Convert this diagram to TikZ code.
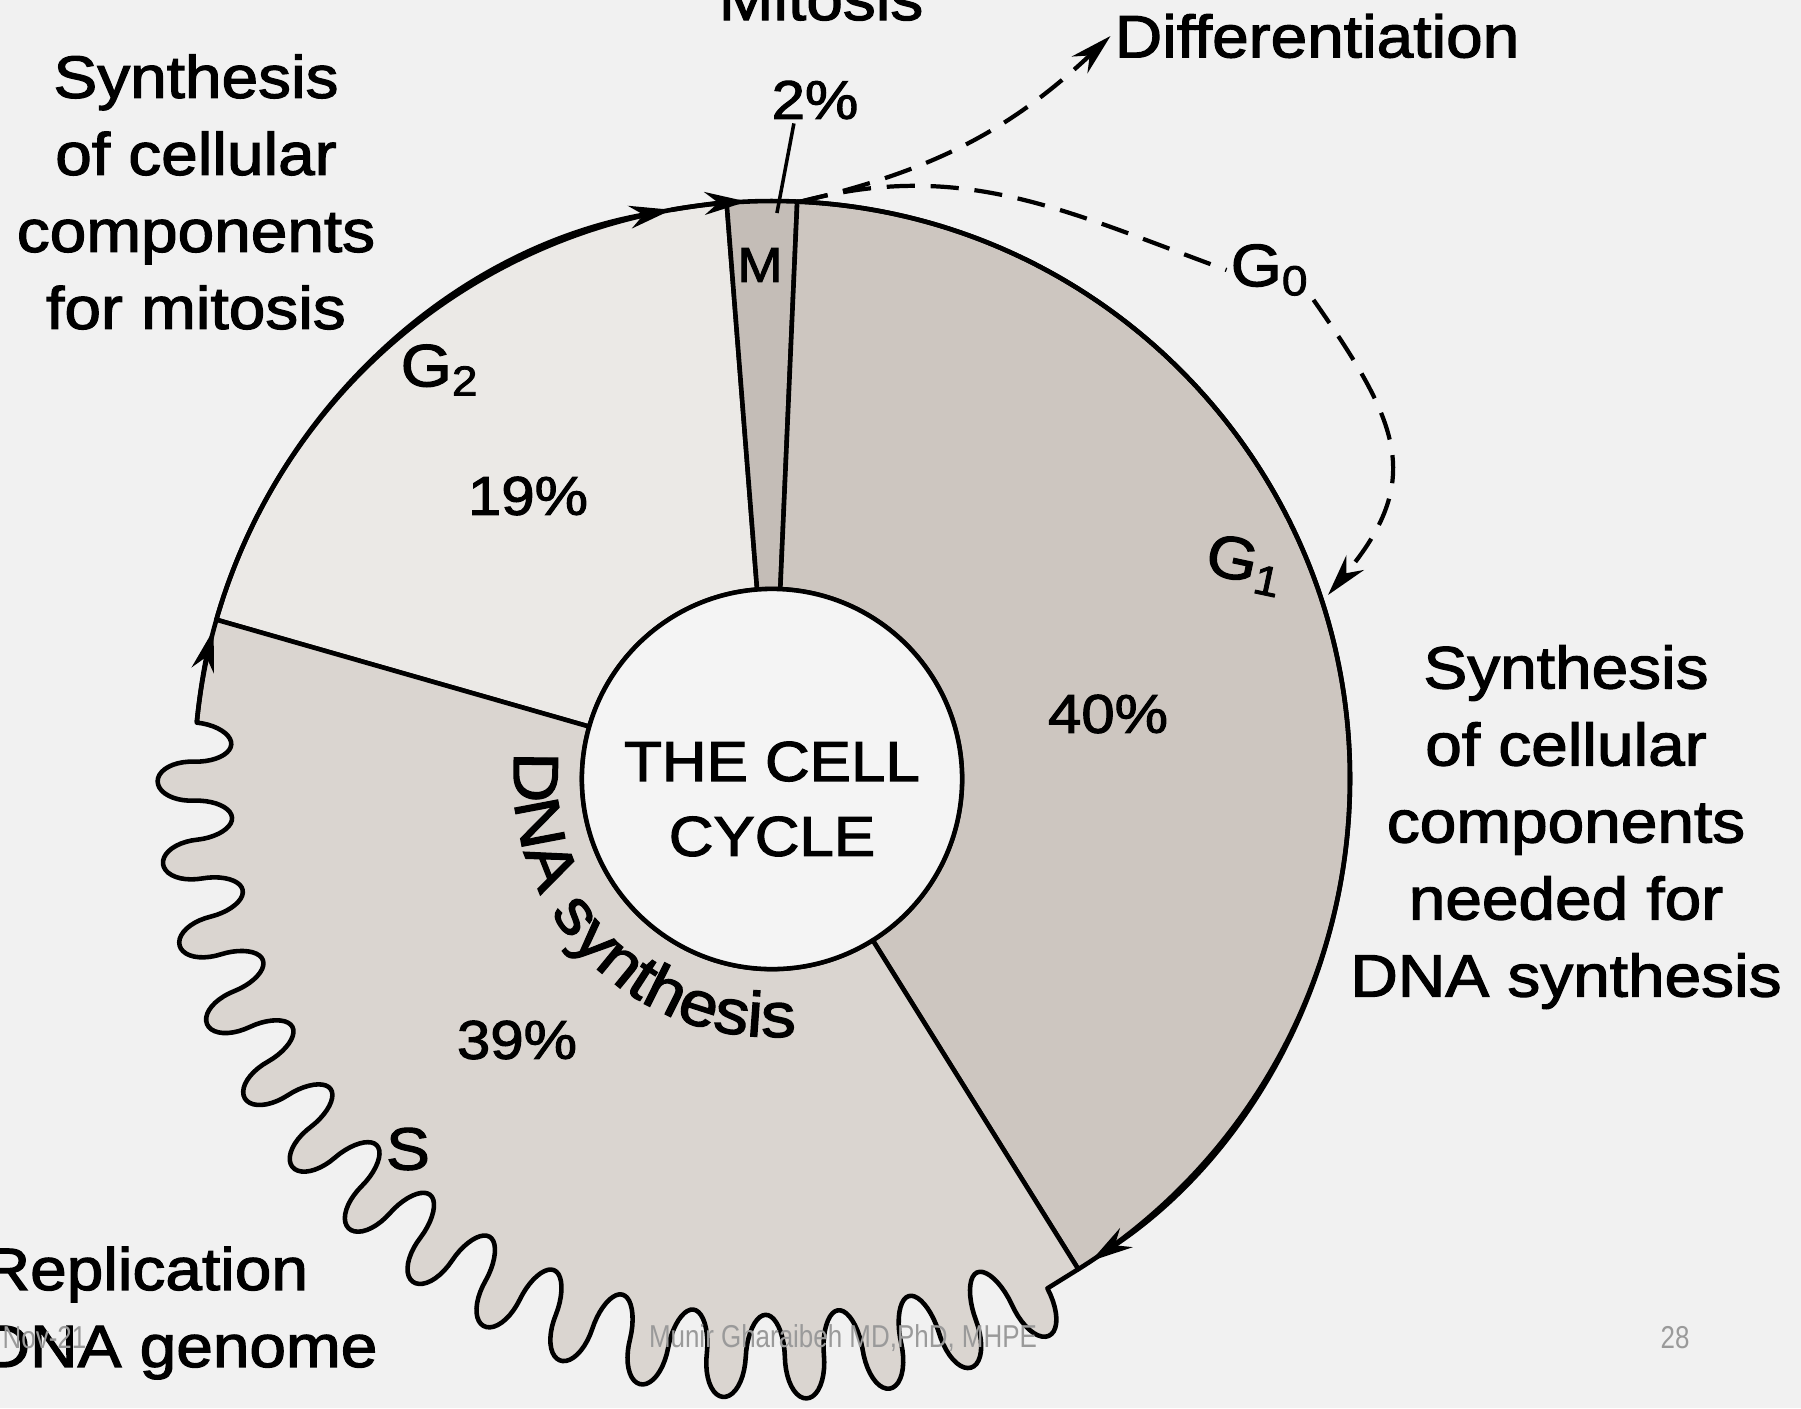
\documentclass[tikz,border=0pt]{standalone}
\usepackage{fontspec}
\setmainfont[FakeStretch=1.1,FakeBold=2]{Liberation Sans}
\newfontfamily\footfont[FakeStretch=0.82]{Liberation Sans}
\usetikzlibrary{arrows.meta,decorations.text}
\definecolor{slidebg}{HTML}{F1F1F1}
\definecolor{gtwofill}{HTML}{EBE9E6}
\definecolor{sfill}{HTML}{DAD5D0}
\definecolor{gonefill}{HTML}{CDC6C0}
\definecolor{mfill}{HTML}{C4BDB7}
\definecolor{hubfill}{HTML}{F4F4F4}
\definecolor{footgray}{HTML}{9A9A9A}

\begin{document}
\begin{tikzpicture}[
    x=0.01cm, y=0.01cm,
    >={Stealth[length=12pt,width=6.5pt]},
    phase/.style={draw=black, line width=1.3pt, line join=round},
    ring/.style={line width=1.3pt},
    dashline/.style={line width=1.2pt, dash pattern=on 8pt off 4.5pt},
    lbl/.style={font=\fontsize{17}{21.9}\selectfont, align=center, inner sep=1pt},
    pct/.style={font=\fontsize{15.5}{18}\selectfont, inner sep=1pt},
    foot/.style={font=\footfont\fontsize{9}{10}\selectfont, text=footgray, inner sep=0pt}
  ]
  \fill[slidebg] (-772,-629) rectangle (1029,779);
  \useasboundingbox (-772,-629) rectangle (1029,779);

  % sectors of the cycle
  \filldraw[phase, fill=gtwofill] (164:190) -- (164:578) arc[start angle=164, end angle=94.5, radius=578]
    -- (94.5:190) arc[start angle=94.5, end angle=164, radius=190] -- cycle;
  \filldraw[phase, fill=mfill] (94.5:190) -- (94.5:578) arc[start angle=94.5, end angle=87.5, radius=578]
    -- (87.5:190) arc[start angle=87.5, end angle=94.5, radius=190] -- cycle;
  \filldraw[phase, fill=gonefill] (87.5:190) -- (87.5:578) arc[start angle=87.5, end angle=-58, radius=578]
    -- (-58:190) arc[start angle=-58, end angle=87.5, radius=190] -- cycle;
  % S phase with its wavy rim (32 lobes)
  \filldraw[phase, fill=sfill] (164:190) -- (164:578) arc[start angle=164, end angle=174.4, radius=578]
    -- plot[domain=0:32, samples=641, variable=\t]
       ({174.4+3.875*(floor(\t)+0.5-0.5*cos(180*(\t-floor(\t))))}:{578-cos(180*floor(\t))*(36+8*\t/32)*sin(180*(\t-floor(\t)))})
    -- (302:578) -- (302:190) arc[start angle=302, end angle=164, radius=190] -- cycle;

  % arrows round the ring
  \draw[ring,->] (164:578) arc[start angle=164, end angle=100, radius=578];
  \draw[ring,->] (100:578) arc[start angle=100, end angle=92.5, radius=578];
  \draw[ring,->] (87.5:578) arc[start angle=87.5, end angle=-56.5, radius=578];
  \draw[ring,->] (174.4:578) arc[start angle=174.4, end angle=165, radius=578];

  \node[circle, draw, line width=1.3pt, fill=hubfill, minimum size=3.8cm, inner sep=0pt] (hub) at (0,0) {};
  \node[align=center, inner sep=0pt, font=\fontsize{16}{21.3}\selectfont] (hubtext) at (0,-20) {THE CELL\\CYCLE};
  \path[decorate, decoration={text along path, text align=left,
      text={|\fontsize{18}{20}\selectfont|DNA synthesis}}]
    (174:258) arc[start angle=174, end angle=295, radius=258];

  % labels
  \node[lbl] (synmit) at (-576,587) {Synthesis\\of cellular\\components\\for mitosis};
  \node[lbl] (syndna) at (794,-48) {Synthesis\\of cellular\\components\\needed for\\DNA synthesis};
  \node[lbl, anchor=base] (mitosis) at (49,759) {Mitosis};
  \node[lbl] (diff) at (545,743) {Differentiation};
  \node[lbl, align=left, anchor=west, inner sep=0pt] (repl) at (-790,-534) {Replication\\DNA genome};
  \node[pct] (pctM) at (43,679) {2\%};
  \node[pct] (pctG2) at (-244,283) {19\%};
  \node[pct] (pctS) at (-255,-261) {39\%};
  \node[pct] (pctG1) at (336,65) {40\%};
  \node[lbl] (g2) at (-332,409) {G\textsubscript{2}};
  \node[lbl] (sname) at (-364,-370) {S};
  \node[font=\fontsize{14}{16}\selectfont, inner sep=0pt] (mname) at (-12,514) {M};
  \node[lbl, rotate=-12] (g1) at (473,214) {G\textsubscript{1}};
  \node[lbl, fill=slidebg] (g0) at (498,509) {G\textsubscript{0}};

  % exits from the cycle
  \coordinate (mtop) at (87.2:578);
  \coordinate (mmark) at (89.5:566);
  \coordinate (g1tip) at (556,184);
  \draw[line width=1pt] ([xshift=-6pt]pctM.south) -- (mmark);
  \draw[dashline] (mtop) to[out=15, in=160] (g0.west);
  \draw[dashline,->] (g0.south east) to[out=-55, in=50, looseness=1.3] (g1tip);
  \draw[dashline,->] (mtop) to[bend right=15] (diff.west);

  % slide footer
  \node[foot, anchor=west] (fdate) at (-770,-559) {Nov-21};
  \node[foot] (fauthor) at (71,-559) {Munir Gharaibeh MD,PhD, MHPE};
  \node[foot] (fpage) at (903,-559) {28};
\end{tikzpicture}
\end{document}
